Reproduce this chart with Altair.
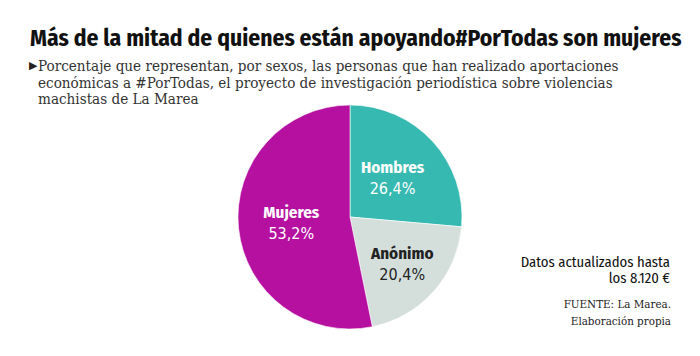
import altair as alt
import pandas as pd

categories = ["Hombres", "Anónimo", "Mujeres"]
values = [26.4, 20.4, 53.2]
value_labels = ["26,4%", "20,4%", "53,2%"]
colors = ["#36b9b0", "#d4dfdc", "#b5109f"]
label_colors = ["#ffffff", "#222222", "#ffffff"]

title_text = "Más de la mitad de quienes están apoyando#PorTodas son mujeres"
subtitle_lines = [
    "Porcentaje que representan, por sexos, las personas que han realizado aportaciones",
    "económicas a #PorTodas, el proyecto de investigación periodística sobre violencias",
    "machistas de La Marea",
]
note_lines = ["Datos actualizados hasta", "los 8.120 €"]
source_lines = ["FUENTE: La Marea.", "Elaboración propia"]

df = pd.DataFrame({"cat": categories, "val": values, "lab": value_labels,
                   "order": [0, 1, 2]})

W, H = 684, 340
CX, CY, R = 342, 209, 112

color = alt.Color("cat:N", scale=alt.Scale(domain=categories, range=colors), legend=None)

pie = alt.Chart(df).mark_arc(outerRadius=R, stroke="white", strokeWidth=0.6).encode(
    theta=alt.Theta("val:Q", stack=True), order=alt.Order("order:Q"),
    color=color, x=alt.value(CX), y=alt.value(CY))

lab_color = alt.Color("cat:N", scale=alt.Scale(domain=categories, range=label_colors), legend=None)

mid = alt.Chart(df).transform_joinaggregate(total="sum(val)").transform_window(
    cum="sum(val)", sort=[alt.SortField("order")]
).transform_calculate(mid="(datum.cum - datum.val / 2) / datum.total * 2 * PI")

SANS = "Fira Sans Condensed, Liberation Sans Narrow, DejaVu Sans Condensed"

def slice_label(cat, radius, dx, dy):
    d = mid.transform_filter(alt.datum.cat == cat).encode(
        theta=alt.Theta("mid:Q", scale=None), color=lab_color,
        x=alt.value(CX), y=alt.value(CY))
    name = d.mark_text(radius=radius, font=SANS, fontWeight="bold",
                       fontSize=17, dx=dx, dy=dy - 10).encode(text="cat:N")
    pct = d.mark_text(radius=radius, font="DejaVu Sans Condensed", fontSize=16,
                      dx=dx, dy=dy + 11).encode(text="lab:N")
    return name + pct

labels = (slice_label("Hombres", 55, 2, -2) + slice_label("Anónimo", 70, 0, 0)
          + slice_label("Mujeres", 59, 0, 0))

title = alt.Chart(pd.DataFrame({"t": [title_text]})).mark_text(
    font=SANS, fontWeight="bold", fontSize=23.5, align="left",
    baseline="alphabetic", color="#111111").encode(
    text="t:N", x=alt.value(22), y=alt.value(38))

subtitle = alt.Chart(pd.DataFrame({"t": ["\n".join(subtitle_lines)]})).mark_text(
    font="DejaVu Serif Condensed", fontSize=15.1, align="left", baseline="alphabetic",
    lineBreak="\n", lineHeight=16.7, color="#333333").encode(
    text="t:N", x=alt.value(30), y=alt.value(63))

tri = alt.Chart(pd.DataFrame({"t": ["▶"]})).mark_text(
    fontSize=11, align="left", baseline="alphabetic", color="#222222").encode(
    text="t:N", x=alt.value(21), y=alt.value(61))

note = alt.Chart(pd.DataFrame({"t": ["\n".join(note_lines)]})).mark_text(
    font=SANS, fontSize=14.7, align="right", baseline="alphabetic",
    lineBreak="\n", lineHeight=16, color="#111111").encode(
    text="t:N", x=alt.value(662), y=alt.value(259))

src = alt.Chart(pd.DataFrame({"t": ["\n".join(source_lines)]})).mark_text(
    font="DejaVu Serif Condensed", fontSize=11.5, align="right", baseline="alphabetic",
    lineBreak="\n", lineHeight=17, color="#222222").encode(
    text="t:N", x=alt.value(663), y=alt.value(300))

chart = alt.layer(pie, labels, title, tri, subtitle, note, src).resolve_scale(
    color="independent").properties(
    width=W, height=H, autosize=alt.AutoSizeParams(type="none"), padding=0
).configure_view(stroke=None)

chart.save("out.html", embed_options={"renderer": "svg", "actions": False})
